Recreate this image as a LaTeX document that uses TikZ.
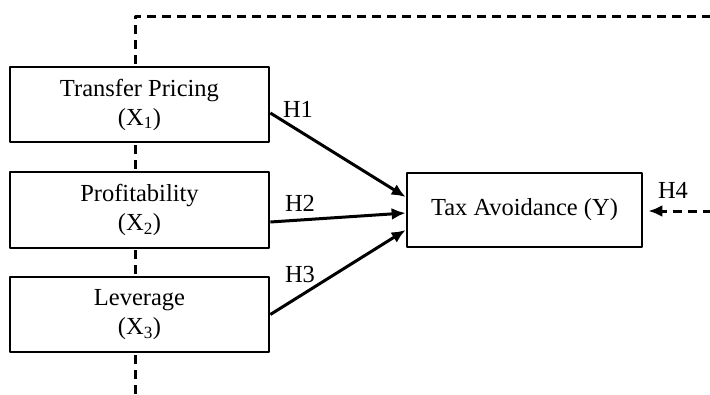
\documentclass[tikz,border=0pt]{standalone}
\usepackage{fontspec}
\setmainfont{Liberation Serif}
\usetikzlibrary{arrows.meta}
\tikzset{
  varbox/.style={draw, line width=2.7pt, fill=white, minimum width=259pt, align=center, inner sep=0pt},
  hyp/.style={line width=3pt, -{Latex[length=14pt,width=12pt]}},
  hypdash/.style={line width=3pt, dash pattern=on 9pt off 6pt},
  hlabel/.style={font=\fontsize{24.5}{26}\selectfont}
}
\begin{document}
\begin{tikzpicture}[x=1pt, y=-1pt, font=\fontsize{24.5}{29}\selectfont, line join=round]
		\useasboundingbox (0,0) rectangle (710,394);
		% Đường nét đứt (moderating)
		\coordinate (T) at (135,16);
		\coordinate (B) at (135,394);
		\coordinate (R) at (712,16);
		\coordinate (E) at (712,211);
		\draw[hypdash] (B) -- (T) -- (R);
		
		% Các biến
		\node[varbox, minimum height=75pt] (x1) at (139.5,104.5) {Transfer Pricing\\(X\textsubscript{1})};
		\node[varbox, minimum height=76pt] (x2) at (139.5,210) {Profitability\\(X\textsubscript{2})};
		\node[varbox, minimum height=75pt] (x3) at (139.5,314.5) {Leverage\\(X\textsubscript{3})};
		\node[varbox, minimum width=235pt, minimum height=74pt] (y) at (524.5,210) {Tax Avoidance (Y)};
		
		% Các giả thuyết
		\draw[hyp] ([yshift=-8.5pt]x1.east) -- ([yshift=13pt]y.west);
		\draw[hyp] ([yshift=-12pt]x2.east) -- ([yshift=-3pt]y.west);
		\draw[hyp] (x3.east) -- ([yshift=-20pt]y.west);
		\draw[hypdash, -{Latex[length=14pt,width=12pt]}] (E) -- ([xshift=5pt,yshift=-1pt]y.east);
		
		% Nhãn
		\node[hlabel] (h1) at (298,109) {H1};
		\node[hlabel] (h2) at (300,203) {H2};
		\node[hlabel] (h3) at (300,275) {H3};
		\node[hlabel] (h4) at (673,190) {H4};
\end{tikzpicture}
\end{document}
